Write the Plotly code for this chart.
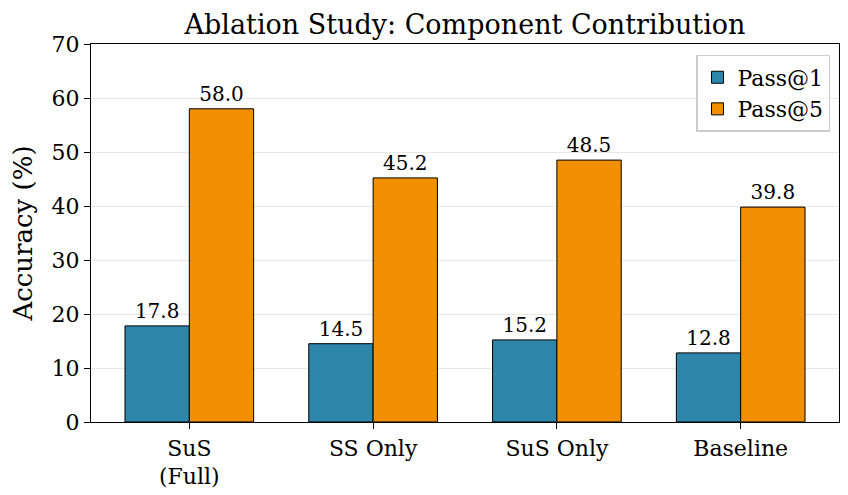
import plotly.graph_objects as go

categories = ["SuS<br>(Full)", "SS Only", "SuS Only", "Baseline"]
pass1 = [17.8, 14.5, 15.2, 12.8]
pass5 = [58.0, 45.2, 48.5, 39.8]
y_ticks = [0, 10, 20, 30, 40, 50, 60, 70]

FONT = "DejaVu Serif"
BLUE = "#2E86AB"
ORANGE = "#F18F01"

fig = go.Figure()
for name, vals, col in [("Pass@1", pass1, BLUE), ("Pass@5", pass5, ORANGE)]:
    fig.add_trace(go.Bar(
        name=name, x=categories, y=vals,
        marker=dict(color=col, line=dict(color="black", width=1)),
        text=[f"{v:.1f}" for v in vals], textposition="outside",
        textfont=dict(family=FONT, size=20, color="black"),
        cliponaxis=False,
    ))

fig.update_layout(
    width=848, height=495,
    margin=dict(l=83, r=17, t=36, b=81, autoexpand=False),
    barmode="group", bargap=0.3, bargroupgap=0,
    plot_bgcolor="white", paper_bgcolor="white",
    font=dict(family=FONT, size=22, color="black"),
    title=dict(text="Ablation Study: Component Contribution",
               xref="paper", x=0.5, xanchor="center", y=0.966, yanchor="middle",
               font=dict(family=FONT, size=27, color="black")),
    legend=dict(x=0.988, y=0.971, xanchor="right", yanchor="top",
                bordercolor="#cccccc", borderwidth=1.5, bgcolor="rgba(255,255,255,0.8)",
                font=dict(family=FONT, size=22)),
    showlegend=True,
)
fig.update_xaxes(
    range=[-0.535, 3.535], showline=True, linecolor="black", linewidth=1.3,
    mirror=True, ticks="outside", ticklen=6, tickwidth=1.3, tickcolor="black",
    showgrid=False, tickfont=dict(family=FONT, size=22), automargin=False,
)
fig.update_yaxes(
    range=[0, 70], tickvals=y_ticks, showline=True, linecolor="black", linewidth=1.3,
    mirror=True, ticks="outside", ticklen=6, tickwidth=1.3, tickcolor="black",
    showgrid=True, gridcolor="rgba(160,160,160,0.25)", gridwidth=1.2,
    layer="above traces", zeroline=False, automargin=False,
    tickfont=dict(family=FONT, size=22),
    title=dict(text="Accuracy (%)", font=dict(family=FONT, size=26), standoff=13),
)

fig.write_html("out.html")
